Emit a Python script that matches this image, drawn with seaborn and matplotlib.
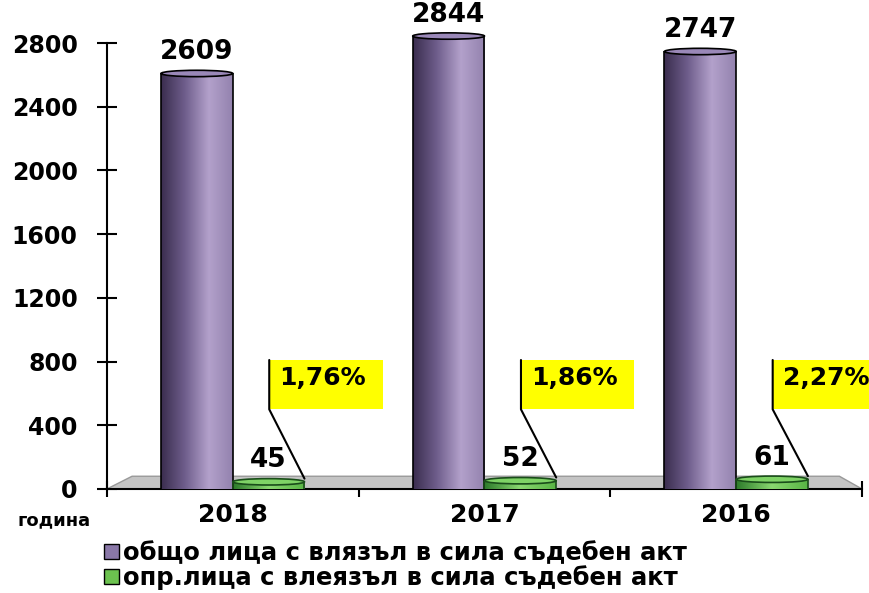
import numpy as np
import pandas as pd
import seaborn as sns
import matplotlib.pyplot as plt
from matplotlib.patches import Ellipse, Polygon, Rectangle, Patch
from matplotlib.colors import LinearSegmentedColormap

years = ["2018", "2017", "2016"]
total = [2609, 2844, 2747]
convicted = [45, 52, 61]
shares = ["1,76%", "1,86%", "2,27%"]
series = ["общо лица с влязъл в сила съдебен акт",
          "опр.лица с влеязъл в сила съдебен акт"]
yticks = [0, 400, 800, 1200, 1600, 2000, 2400, 2800]

df = pd.DataFrame({
    "year": years * 2,
    "value": total + convicted,
    "group": [series[0]] * 3 + [series[1]] * 3,
})

sns.set_style("white")
plt.rcParams["font.family"] = ["DejaVu Sans"]
plt.rcParams["font.weight"] = "bold"
for k in ["text.color", "axes.labelcolor", "xtick.color", "ytick.color"]:
    plt.rcParams[k] = "black"

fig = plt.figure(figsize=(8.69, 5.93), dpi=100)
ax = fig.add_axes([0.123, 0.1754, 0.869, 0.752])

sns.barplot(data=df, x="year", y="value", hue="group",
            palette=["#9a88b8", "#6cc24f"], width=0.57, gap=0,
            saturation=1, legend=False, ax=ax, zorder=3)

# cylinder look: gradient body + elliptical cap
purple = LinearSegmentedColormap.from_list(
    "p", ["#3a2d4e", "#6f5e8c", "#b3a1cb", "#9382ae"])
green = LinearSegmentedColormap.from_list(
    "g", ["#2c7a2a", "#8ad870", "#58b444"])
grad = np.linspace(0, 1, 256)[None, :]


def cylinder(rect, cmap, cap, edge):
    x0, w, h = rect.get_x(), rect.get_width(), rect.get_height()
    rect.set_facecolor("none")
    rect.set_edgecolor("none")
    ax.imshow(grad, cmap=cmap, extent=[x0, x0 + w, 0, h], aspect="auto",
              zorder=3, interpolation="bilinear", clip_on=False)
    ax.vlines([x0, x0 + w], 0, h, color=edge, lw=1.2, zorder=3.2, clip_on=False)
    ax.add_patch(Ellipse((x0 + w / 2, h), w, 40, facecolor=cap, edgecolor=edge,
                         lw=1.2, zorder=3.3, clip_on=False))


for r in ax.containers[0]:
    cylinder(r, purple, "#9a88b8", "black")
for r in ax.containers[1]:
    cylinder(r, green, "#7fd366", "#1a4d1a")

# floor
ax.add_patch(Polygon([(-0.5, 0), (-0.4, 80), (2.41, 80), (2.5, 0)],
                     closed=True, facecolor="#c4c4c4", edgecolor="#999999",
                     lw=1, zorder=1))

ax.set_xlim(-0.5, 2.5)
ax.set_ylim(0, 2800)
ax.set_yticks(yticks)
ax.set_xlabel("")
ax.set_ylabel("")

for i, c in enumerate(ax.containers):
    ax.bar_label(c, padding=6, fontsize=19, fontweight="bold", zorder=6,
                 annotation_clip=False)

# yellow callouts with the share
for i, (v, s) in enumerate(zip(convicted, shares)):
    r = ax.containers[1][i]
    right = r.get_x() + r.get_width()
    left = right - 0.14
    ax.add_patch(Rectangle((left, 500), 0.45, 310, facecolor="yellow",
                           edgecolor="none", zorder=4, clip_on=False))
    ax.plot([left, left, right], [810, 500, v + 20], color="black", lw=1.5,
            zorder=5, clip_on=False)
    ax.text(left + 0.04, 695, s, ha="left", va="center", fontsize=18,
            fontweight="bold", zorder=6)

sns.despine(ax=ax)
for sp in ["left", "bottom"]:
    ax.spines[sp].set_color("black")
    ax.spines[sp].set_linewidth(1.5)
ax.tick_params(axis="y", direction="inout", length=14, width=1.5,
               labelsize=17, pad=14, left=True)
ax.tick_params(axis="x", length=0, labelsize=18, pad=10)
ax.set_xticks([-0.5, 0.5, 1.5, 2.5], minor=True)
ax.tick_params(axis="x", which="minor", direction="inout", length=12,
               width=1.5, bottom=True)

fig.text(54 / 869, 1 - 520 / 593, "година", ha="center", va="center",
         fontsize=13, fontweight="bold")

handles = [Patch(facecolor="#8a78a8", edgecolor="black"),
           Patch(facecolor="#6cc24f", edgecolor="black")]
fig.legend(handles, series, loc="upper left",
           bbox_to_anchor=(104 / 869, 1 - 541 / 593), frameon=False,
           fontsize=17.5, handlelength=0.6, handleheight=0.6,
           handletextpad=0.2, labelspacing=0.0, borderpad=0,
           borderaxespad=0)

fig.savefig("out.png", dpi=100)
